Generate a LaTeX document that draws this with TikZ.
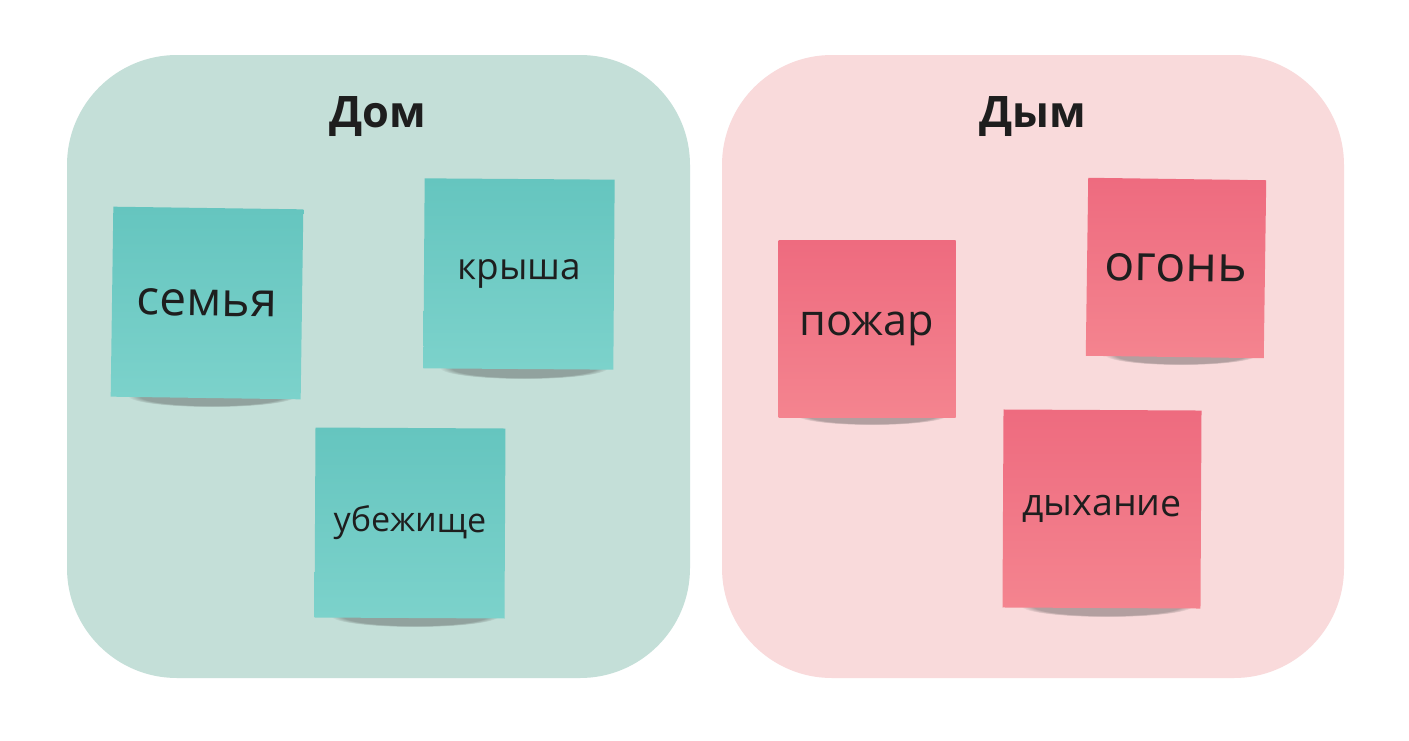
\documentclass[tikz,border=0pt]{standalone}
\usepackage{fontspec}
\setmainfont{Open Sans}
\usetikzlibrary{fadings}

\definecolor{panelgreen}{HTML}{C4DFD8}
\definecolor{panelpink}{HTML}{F9DADB}
\definecolor{tealtop}{HTML}{65C5BF}
\definecolor{tealbot}{HTML}{7CD2CB}
\definecolor{pinktop}{HTML}{EE6B7F}
\definecolor{pinkbot}{HTML}{F4848F}
\definecolor{ink}{HTML}{1E1E1E}

\tikzset{
  panel/.style={rounded corners=55pt},
  note/.style={minimum width=95pt,minimum height=95pt,inner sep=0pt,text=ink},
  tealnote/.style={note,top color=tealtop,bottom color=tealbot},
  pinknote/.style={note,top color=pinktop,bottom color=pinkbot},
  shadowblob/.style={fill=black!80,opacity=.35,path fading=circle with fuzzy edge 15 percent}
}

\begin{document}
\begin{tikzpicture}[x=0.5pt,y=-0.5pt]
          \useasboundingbox[fill=white] (0,0) rectangle (1409,740);
          % panels
          \fill[panel,panelgreen] (67,55) rectangle (690,678);
          \fill[panel,panelpink] (722,55) rectangle (1344,678);
          \node[font=\bfseries\fontsize{21.7}{26}\selectfont,text=ink] (dom) at (378,117) {Дом};
          \node[font=\bfseries\fontsize{21.7}{26}\selectfont,text=ink] (dym) at (1033,117) {Дым};
          % shadows under the notes
          \fill[shadowblob] (212,396) ellipse (84 and 11);   % семья
          \fill[shadowblob] (524,368) ellipse (84 and 11);   % крыша
          \fill[shadowblob] (415,616) ellipse (84 and 11);   % убежище
          \fill[shadowblob] (872,415) ellipse (76 and 10);   % пожар
          \fill[shadowblob] (1181,355) ellipse (76 and 10);  % огонь
          \fill[shadowblob] (1107,606) ellipse (86 and 11);  % дыхание
          % notes, left panel
          \node[tealnote,rotate=-0.8,font=\fontsize{24}{28}\selectfont] (semya) at (207,303) {семья};
          \node[tealnote,rotate=-0.4,font=\fontsize{18.4}{22}\selectfont] (krysha) at (519,274) {крыша};
          \node[tealnote,rotate=-0.3,font=\fontsize{17}{20}\selectfont] (ubezhishche) at (410,523) {убежище};
          % notes, right panel
          \node[pinknote,minimum width=88.5pt,minimum height=88.5pt,font=\fontsize{21.6}{26}\selectfont] (pozhar) at (867,329) {пожар};
          \node[pinknote,rotate=-0.8,minimum width=89pt,minimum height=89pt,font=\fontsize{25}{30}\selectfont] (ogon) at (1176,268) {огонь};
          \node[pinknote,rotate=-0.3,minimum width=99pt,minimum height=99pt,font=\fontsize{18.7}{22}\selectfont] (dykhanie) at (1102,509) {дыхание};
\end{tikzpicture}
\end{document}
